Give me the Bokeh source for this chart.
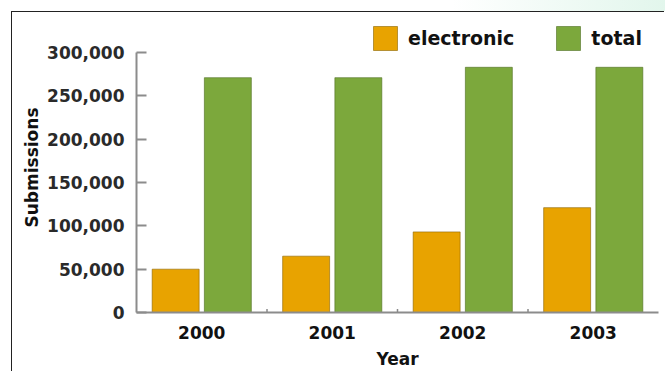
import math
from bokeh.plotting import figure
from bokeh.layouts import column
from bokeh.models import (ColumnDataSource, FactorRange, Range1d, SingleIntervalTicker,
                          NumeralTickFormatter, Legend, LegendItem, Div)
from bokeh.transform import dodge
from bokeh.embed import file_html
from bokeh.resources import INLINE

years = ["2000", "2001", "2002", "2003"]
electronic = [50000, 65000, 93000, 121000]
total = [271000, 271000, 283000, 283000]
series_names = ["electronic", "total"]
colors = ["#E8A300", "#7CA83C"]
y_max = 300000

FONT = "DejaVu Sans"

src = ColumnDataSource(dict(year=years, electronic=electronic, total=total))
sep_src = ColumnDataSource(dict(year=years[:-1], y=[0] * (len(years) - 1)))

# frame spans from legend top to the baseline; the axis itself stops at y_max
frame_h = 289.5
axis_h = 259.5
legend_h = 30
p = figure(width=653, height=360, x_range=FactorRange(*years, range_padding=0),
           y_range=Range1d(0, y_max * frame_h / axis_h), output_backend="svg",
           toolbar_location=None,
           min_border_left=124, min_border_right=7, min_border_top=10, min_border_bottom=60)
p.margin = (0, 0, 0, 11)
p.styles = {"border-left": "1px solid #222", "border-top": "1px solid #222"}
p.outline_line_color = None
p.grid.grid_line_color = None
p.background_fill_color = "white"
p.border_fill_color = "white"

r1 = p.vbar(x=dodge("year", -0.2, range=p.x_range), top="electronic", width=0.36, source=src,
            fill_color=colors[0], line_color="#8a6400", line_alpha=0.6, line_width=1)
r2 = p.vbar(x=dodge("year", 0.2, range=p.x_range), top="total", width=0.36, source=src,
            fill_color=colors[1], line_color="#4e6e22", line_alpha=0.6, line_width=1)
p.scatter(x=dodge("year", 0.5, range=p.x_range), y="y", source=sep_src, marker="dash",
          angle=math.pi / 2, size=7, line_color="#888888", line_width=1.5)

# y axis
ya = p.yaxis[0]
ya.bounds = (0, y_max)
ya.ticker = SingleIntervalTicker(interval=50000)
ya.formatter = NumeralTickFormatter(format="0,0")
ya.axis_label = "Submissions"
ya.axis_label_text_font = FONT
ya.axis_label_text_font_style = "bold"
ya.axis_label_text_font_size = "17px"
ya.axis_label_text_color = "#111111"
ya.axis_label_standoff = 2
ya.major_label_text_font = FONT
ya.major_label_text_font_style = "bold"
ya.major_label_text_font_size = "17px"
ya.major_label_text_color = "#2a2a2a"
ya.major_label_standoff = 8
ya.axis_line_color = "#8c8c8c"
ya.axis_line_width = 2
ya.major_tick_line_color = "#8c8c8c"
ya.major_tick_line_width = 2
ya.major_tick_in = 10
ya.major_tick_out = 0
ya.minor_tick_line_color = None

# x axis
xa = p.xaxis[0]
xa.axis_label = "Year"
xa.axis_label_text_font = FONT
xa.axis_label_text_font_style = "bold"
xa.axis_label_text_font_size = "17px"
xa.axis_label_text_color = "#111111"
xa.axis_label_standoff = 7
xa.major_label_text_font = FONT
xa.major_label_text_font_style = "bold"
xa.major_label_text_font_size = "17px"
xa.major_label_text_color = "#111111"
xa.major_label_standoff = 13
xa.axis_line_color = "#8c8c8c"
xa.axis_line_width = 2
xa.major_tick_line_color = None
xa.major_tick_in = 0
xa.major_tick_out = 0

legend = Legend(items=[LegendItem(label=series_names[0], renderers=[r1]),
                       LegendItem(label=series_names[1], renderers=[r2])],
                location=(234, frame_h - legend_h), orientation="horizontal",
                glyph_width=30, glyph_height=legend_h, label_standoff=8, spacing=39,
                padding=0, margin=0, border_line_color=None, background_fill_alpha=0,
                label_text_font=FONT, label_text_font_style="bold",
                label_text_font_size="19px", label_text_color="#111111")
p.add_layout(legend, "center")

header = Div(text="", width=665, height=11, margin=(0, 0, 0, 0),
             styles={"background": "linear-gradient(to right, #ffffff 0%, #ffffff 68%, #e2f6ec 100%)"})

layout = column(header, p, spacing=0)
open("out.html", "w").write(file_html(layout, INLINE))
